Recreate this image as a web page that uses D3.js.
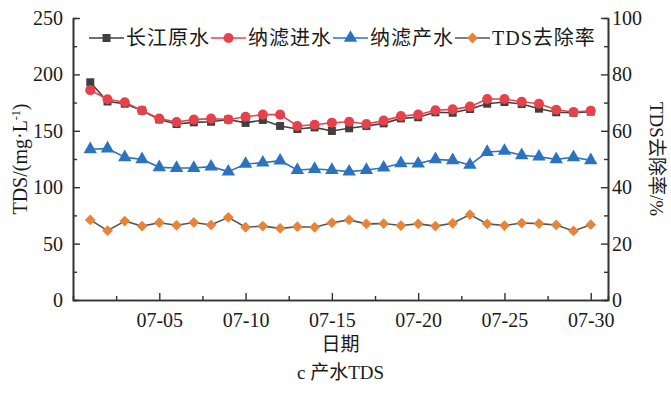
<!DOCTYPE html>
<html>
<head>
<meta charset="utf-8">
<script src="https://cdn.jsdelivr.net/npm/d3@7"></script>
<style>
	body { margin: 0; background: #fff; }
	svg text { fill: #1a1a1a; }
</style>
</head>
<body>
<div id="chart"></div>
<script>
// days of July, 1..30
var days = d3.range(1, 31);
var xTickLabels = ["07-05", "07-10", "07-15", "07-20", "07-25", "07-30"];

// TDS, mg/L (left axis)
var rawWater = [193, 176, 174, 168, 160, 156, 157.5, 158, 160, 157, 159.6, 154.3, 151.6, 153, 149.8, 152.2, 154.3, 156.6, 161, 162,
	166.4, 166, 169.3, 174, 175.5, 173.8, 169.6, 166.4, 166, 167];
var nfFeed = [186, 178, 175.3, 168, 160.8, 157.8, 159.9, 160.8, 160, 162.5, 164.3, 164.3, 154.3, 155.4, 157.2, 158, 156, 159, 163, 164.3,
	168.2, 169, 171.4, 178.2, 178.2, 175.8, 174, 168.7, 166.7, 167.8];
var nfProduct = [133.6, 134.2, 126.5, 124.7, 117.6, 117, 117, 118.2, 113.8, 120.6, 121.7, 123.5, 115.2, 116.1, 115.2, 113.8, 115.2, 117.3, 121.2, 120.9,
	124.7, 123.8, 119.7, 131.2, 132.1, 128.3, 127, 124.7, 126.5, 123.8];
// TDS removal rate, % (right axis)
var removalRate = [28.4, 24.6, 28, 26.2, 27.4, 26.5, 27.5, 26.6, 29.3, 25.8, 26.2, 25.4, 26, 25.8, 27.4, 28.4, 27, 27.1, 26.4, 27,
	26.2, 27.2, 30.3, 27, 26.4, 27.3, 27.1, 26.6, 24.5, 26.7];

var seriesNames = ["长江原水", "纳滤进水", "纳滤产水", "TDS去除率"];

var W = 671, H = 395;
var margin = {top: 18, right: 63, bottom: 95, left: 73};
var width = W - margin.left - margin.right,
	height = H - margin.top - margin.bottom;

var latin = "'Liberation Serif', 'Times New Roman', 'Noto Sans CJK SC', serif";
var cjk = "'Noto Sans CJK SC', 'Liberation Serif', sans-serif";
var axisColor = "#333";

var series = [
	{name: seriesNames[0], values: rawWater, axis: "left", color: "#404040", lineColor: "#404040", symbol: d3.symbolSquare, size: 64, rotate: 0},
	{name: seriesNames[1], values: nfFeed, axis: "left", color: "#e5434b", lineColor: "#e5434b", symbol: d3.symbolCircle, size: 80, rotate: 0},
	{name: seriesNames[2], values: nfProduct, axis: "left", color: "#2b73bf", lineColor: "#2b73bf", symbol: d3.symbolTriangle, size: 78, rotate: 0},
	{name: seriesNames[3], values: removalRate, axis: "right", color: "#e8843a", lineColor: "#555", symbol: d3.symbolSquare, size: 58, rotate: 45}
];

var svg = d3.select("#chart").append("svg")
	.attr("width", W)
	.attr("height", H);

var g = svg.append("g")
	.attr("transform", "translate(" + margin.left + "," + margin.top + ")");

var x = d3.scaleLinear().domain([0, 31]).range([0, width]);
var yL = d3.scaleLinear().domain([0, 250]).range([height, 0]);
var yR = d3.scaleLinear().domain([0, 100]).range([height, 0]);

// minor ticks first (no labels)
g.append("g")
	.attr("transform", "translate(0," + height + ")")
	.call(d3.axisBottom(x).tickValues(d3.range(2.5, 31, 5)).tickSize(-4).tickFormat(""));
g.append("g")
	.call(d3.axisLeft(yL).tickValues(d3.range(25, 250, 50)).tickSize(-4).tickFormat(""));
g.append("g")
	.attr("transform", "translate(" + width + ",0)")
	.call(d3.axisRight(yR).tickValues(d3.range(10, 100, 20)).tickSize(-4).tickFormat(""));

// major ticks
var xAxis = g.append("g")
	.attr("transform", "translate(0," + height + ")")
	.call(d3.axisBottom(x).tickValues([5, 10, 15, 20, 25, 30]).tickSize(-7).tickSizeOuter(0)
		.tickFormat(function(d, i) { return xTickLabels[i]; }));
xAxis.selectAll("text").attr("y", 8).attr("dy", "0.95em");

var yAxisL = g.append("g")
	.call(d3.axisLeft(yL).tickValues(d3.range(0, 251, 50)).tickSize(-7).tickSizeOuter(0));
yAxisL.selectAll("text").attr("x", -10);

var yAxisR = g.append("g")
	.attr("transform", "translate(" + width + ",0)")
	.call(d3.axisRight(yR).tickValues(d3.range(0, 101, 20)).tickSize(-7).tickSizeOuter(0));
yAxisR.selectAll("text").attr("x", 4);

g.selectAll(".domain").attr("stroke", axisColor).attr("stroke-width", 1.6);
g.selectAll(".tick line").attr("stroke", axisColor).attr("stroke-width", 1.4);
g.selectAll(".tick text")
	.style("font-family", latin)
	.style("font-size", "20px")
	.attr("fill", "#1a1a1a");

// lines + markers
series.forEach(function(s) {
	var yS = s.axis === "left" ? yL : yR;
	var line = d3.line()
		.x(function(d, i) { return x(days[i]); })
		.y(function(d) { return yS(d); });

	g.append("path")
		.datum(s.values)
		.attr("fill", "none")
		.attr("stroke", s.lineColor)
		.attr("stroke-width", 1.6)
		.attr("d", line);

	g.selectAll(null)
		.data(s.values)
		.enter().append("path")
		.attr("d", d3.symbol().type(s.symbol).size(s.size))
		.attr("fill", s.color)
		.attr("transform", function(d, i) {
			return "translate(" + x(days[i]) + "," + yS(d) + ") rotate(" + s.rotate + ")";
		});
});

// legend
var legend = svg.append("g").attr("transform", "translate(89,38)");
var lx = 0;
series.forEach(function(s) {
	var item = legend.append("g").attr("transform", "translate(" + lx + ",0)");
	item.append("line")
		.attr("x1", 0).attr("x2", 35)
		.attr("stroke", s.lineColor)
		.attr("stroke-width", 1.6);
	item.append("path")
		.attr("d", d3.symbol().type(s.symbol).size(s.size))
		.attr("fill", s.color)
		.attr("transform", "translate(17.5,0) rotate(" + s.rotate + ")");
	var t = item.append("text")
		.attr("x", 37)
		.attr("dy", "0.36em")
		.style("font-family", s.name.indexOf("TDS") === 0 ? latin : cjk)
		.style("font-size", "20px")
		.style("letter-spacing", "1px")
		.text(s.name);
	lx += 37 + t.node().getComputedTextLength() + 1;
});

// axis titles
var leftTitle = svg.append("text")
	.attr("transform", "translate(27," + (margin.top + height / 2) + ") rotate(-90)")
	.attr("text-anchor", "middle")
	.style("font-family", latin)
	.style("font-size", "20px");
leftTitle.append("tspan").text("TDS/(mg·L");
leftTitle.append("tspan").attr("dy", -7).style("font-size", "12px").text("-1");
leftTitle.append("tspan").attr("dy", 7).text(")");

svg.append("text")
	.attr("transform", "translate(650," + (margin.top + height / 2) + ") rotate(90)")
	.attr("text-anchor", "middle")
	.style("font-family", latin)
	.style("font-size", "19px")
	.text("TDS去除率/%");

svg.append("text")
	.attr("x", margin.left + width / 2)
	.attr("y", 351)
	.attr("text-anchor", "middle")
	.style("font-family", cjk)
	.style("font-size", "19px")
	.text("日期");

svg.append("text")
	.attr("x", margin.left + width / 2)
	.attr("y", 379)
	.attr("text-anchor", "middle")
	.style("font-family", latin)
	.style("font-size", "19px")
	.text("c  产水TDS");
</script>
</body>
</html>
